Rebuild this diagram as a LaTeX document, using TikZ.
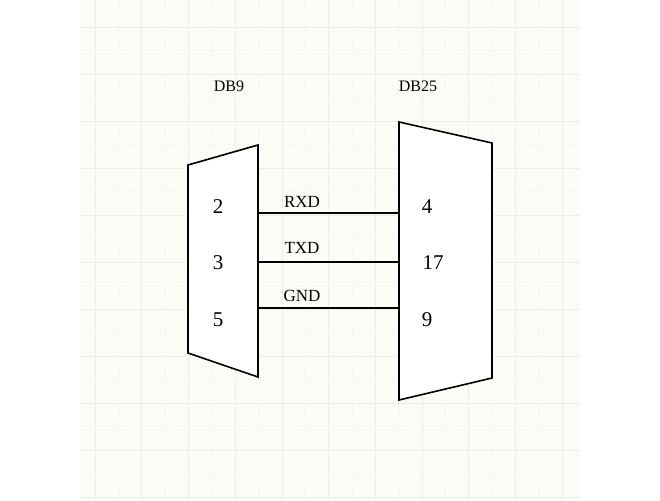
\documentclass[tikz,border=0pt]{standalone}
\usepackage{fontspec}
\setmainfont{Liberation Serif}
\begin{document}
\begin{tikzpicture}[x=1pt,y=-1pt,
  conn/.style={draw=black,line width=1.6pt,fill=white,line join=miter},
  wire/.style={draw=black,line width=1.6pt},
  num/.style={font=\fontsize{21}{21}\selectfont,inner sep=0pt},
  sig/.style={font=\fontsize{17}{17}\selectfont,inner sep=0pt},
  ttl/.style={font=\fontsize{16}{16}\selectfont,inner sep=0pt}]
\useasboundingbox (0,0) rectangle (660,500);
\fill[white] (0,0) rectangle (660,500);
\fill[fill={rgb,255:red,253;green,251;blue,245}] (80,0) rectangle (580,500);
\foreach \i in {0,...,10} {
  \draw[color={rgb,255:red,240;green,237;blue,229},line width=0.6pt] ({95+46.7*\i},0) -- ({95+46.7*\i},500);
  \draw[color={rgb,255:red,243;green,240;blue,233},line width=0.5pt,dotted] ({118.3+46.7*\i},0) -- ({118.3+46.7*\i},500);
}
\foreach \j in {0,...,10} {
  \draw[color={rgb,255:red,240;green,237;blue,229},line width=0.6pt] (80,{27+47*\j}) -- (580,{27+47*\j});
  \draw[color={rgb,255:red,243;green,240;blue,233},line width=0.5pt,dotted] (80,{50.5+47*\j}) -- (580,{50.5+47*\j});
}
\fill[white] (0,0) rectangle (80,500);
\fill[white] (580,0) rectangle (660,500);
\draw[conn] (188,165) -- (258,145) -- (258,377) -- (188,353) -- cycle;
\draw[conn] (399,122) -- (492,143) -- (492,378) -- (399,400) -- cycle;
\coordinate (a1) at (258,213); \coordinate (b1) at (399,213);
\coordinate (a2) at (258,262); \coordinate (b2) at (399,262);
\coordinate (a3) at (258,308); \coordinate (b3) at (399,308);
\draw[wire] (a1) -- (b1);
\draw[wire] (a2) -- (b2);
\draw[wire] (a3) -- (b3);
\node[ttl] (t1) at (229,86) {DB9};
\node[ttl] (t2) at (418,86) {DB25};
\node[num] (n2) at (218,207) {2};
\node[num] (n3) at (218,263) {3};
\node[num] (n5) at (218,320) {5};
\node[num] (m4) at (427,207) {4};
\node[num] (m17) at (433,263) {17};
\node[num] (m9) at (427,320) {9};
\node[sig] (l1) at (302,202) {RXD};
\node[sig] (l2) at (302,248) {TXD};
\node[sig] (l3) at (302,296) {GND};
\end{tikzpicture}
\end{document}
